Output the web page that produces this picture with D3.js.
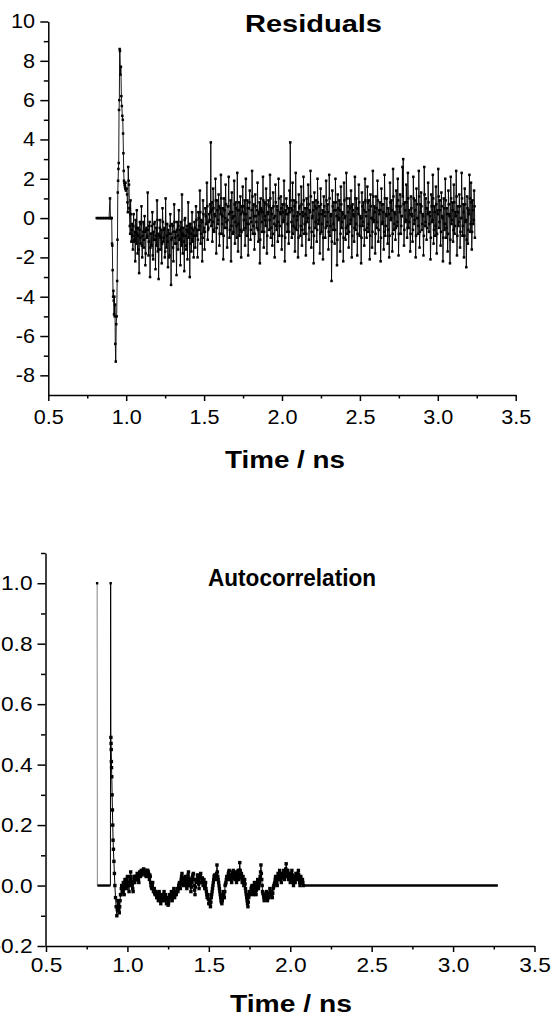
<!DOCTYPE html>
<html><head><meta charset="utf-8">
<script src="https://cdn.jsdelivr.net/npm/d3@7"></script>
<style>body{margin:0;background:#fff}svg{display:block}</style>
</head><body>
<svg id="c" width="554" height="1025"></svg>
<script>
// ---------------- DATA ----------------
// Residuals, leading part (flat zero + spike), explicit times in ns
const resHeadTimes = [
  0.811,0.82,0.83,0.84,0.85,0.86,0.87,0.88,0.89,
  0.896,0.899,0.903,0.907,0.909,0.911,0.913,0.916,0.918,0.920,0.922,
  0.924,0.926,0.928,0.930,0.933,0.936,0.939,0.942,0.944,0.946,
  0.948,0.950,0.952,0.954,0.956,0.958,0.960,0.963,0.966,0.969,
  0.972,0.975,0.978,0.980,0.982,0.984,0.986,0.988,0.990,0.992,
  0.994,0.996,0.998
];
const resHeadValues = [
  0,0,0,0,0,0,0,0,0,
  1.0,0.0,0.0,0.0,-1.3,-1.4,-2.65,-4.0,-3.7,-4.2,-4.9,
  -4.0,-5.0,-4.4,-6.4,-7.3,-5.4,-5.0,-3.2,-1.1,1.3,
  1.9,2.5,2.8,5.5,6.0,8.6,8.5,7.3,7.7,6.2,
  5.7,5.2,5.0,4.3,3.3,2.4,1.9,1.8,1.7,1.6,
  1.5,1.8,1.4
];
// Residuals after the spike: detector channels, start resStart, width resStep.
// residualsEven = channels resStart + i*resStep ; residualsOdd = the channels in between
const resStart = 1.003, resStep = 0.005;
const residualsEven = [
  1.5,0.8,2.6,1.7,-0.4,0.9,-1.2,
  -0.3,-1.6,0.2,-1.1,-2.2,-0.5,0.4,-1.8,-0.9,-2.8,-0.2,-1.3,0.6,-2.0,-0.7,-1.5,0.1,-2.4,-0.6,-1.0,
  1.3,-1.9,-0.4,-3.0,-0.8,-1.4,0.3,-2.1,-1.1,-0.2,-2.6,-0.5,0.9,-1.7,-3.1,-0.9,-0.1,-1.6,-2.3,0.5,
  -1.2,-0.6,-2.0,1.0,-1.5,-0.3,-2.5,-0.8,-1.9,0.2,-3.4,-1.0,-0.4,-2.2,0.7,-1.3,-0.7,-2.9,-0.2,-1.6,
  0.4,-1.1,-2.4,-0.5,1.2,-1.8,-0.9,-2.7,0.0,-1.4,-0.6,-2.1,0.8,-1.0,-3.0,-0.3,-1.7,0.3,-1.2,-2.0,
  -0.2,-1.5,0.6,-0.9,-2.0,0.3,-0.6,1.4,-1.3,-0.1,-2.2,0.9,-0.7,-1.6,0.5,-0.3,1.8,-1.1,-0.5,0.2,
  0.7,3.85,0.4,-1.2,1.5,-0.6,0.2,2.0,-1.8,0.9,-0.3,1.2,-1.4,0.5,2.2,-0.8,0.1,-2.1,1.0,-0.5,
  1.7,-0.2,-1.5,0.6,2.1,-1.0,0.3,-2.2,1.3,0.0,-0.7,1.9,-1.3,0.8,-0.4,2.3,-1.7,0.4,-0.9,1.1,
  -2.0,0.6,1.6,-0.6,0.2,-1.4,2.0,-0.3,0.9,-1.9,0.5,1.4,-1.1,-0.2,2.4,-0.8,0.7,-1.6,1.2,0.1,
  -0.5,1.8,-1.2,0.3,-2.3,1.0,0.4,-0.7,2.1,-1.5,0.8,-0.1,1.5,-1.8,0.2,0.9,-0.6,2.2,-1.0,0.5,
  -1.4,1.3,0.0,-2.0,1.7,-0.4,0.6,-1.2,2.0,-0.9,0.3,1.1,-1.6,0.7,-0.2,1.9,-2.2,0.4,1.0,-0.7,
  0.2,-1.3,1.4,3.85,0.5,-1.0,1.8,-0.4,0.9,-1.7,2.3,-0.6,0.1,-2.0,1.2,0.6,-0.9,1.6,-1.4,0.3,
  2.1,-0.8,0.5,-1.9,1.0,-0.2,1.7,-1.1,0.4,2.4,-1.5,0.0,0.8,-2.3,1.3,-0.5,0.9,-1.2,2.0,-0.3,
  0.6,-1.8,1.5,-0.7,0.2,-2.1,1.1,0.3,-1.0,1.9,-0.4,0.7,-1.6,2.2,-0.9,0.1,-3.2,1.4,-0.6,0.8,
  -1.3,2.0,0.4,-2.4,1.2,-0.1,0.9,-1.7,1.6,-0.5,0.3,-2.2,1.8,0.0,-1.1,2.3,-0.8,0.6,-1.5,1.0,
  -0.3,1.4,-2.0,0.7,0.2,-1.2,2.1,-0.6,1.0,-1.9,0.5,1.7,-0.9,0.1,-2.3,1.3,-0.4,0.8,-1.4,2.0,
  0.3,-1.0,1.6,-0.7,0.9,-2.1,1.2,0.0,-1.5,2.4,-0.2,0.6,-1.8,1.1,-0.5,1.9,-1.2,0.4,0.8,-2.2,
  1.5,-0.3,0.7,-1.6,2.2,-0.9,0.2,1.0,-1.3,0.5,-2.0,1.8,-0.1,0.9,-1.7,2.5,-0.6,0.3,-1.1,1.4,
  -0.4,2.0,-1.9,0.6,1.2,-0.8,0.1,2.6,3.0,-1.4,0.8,-0.2,1.7,-1.0,2.3,-0.5,0.4,-1.7,1.1,0.2,
  -1.2,2.1,-0.3,0.9,-2.0,1.5,0.0,-0.8,2.4,-1.5,0.7,1.3,-0.6,0.2,-1.9,2.6,-0.4,1.0,-1.1,0.5,
  1.8,-0.7,0.3,-2.1,1.2,-0.2,2.2,-1.3,0.6,-0.9,1.6,-1.8,0.4,2.5,-0.5,0.9,-1.4,1.3,0.1,-2.2,
  1.0,-0.6,2.0,-1.0,0.5,-1.7,1.4,0.2,-2.3,2.1,-0.3,0.8,-1.2,1.7,-0.8,0.3,2.4,-1.9,0.6,-0.4,
  1.2,-1.5,0.0,2.3,-0.9,0.7,-2.0,1.5,-0.2,-2.5,1.1,-1.3,0.4,2.2,-0.7,1.8,-1.6,0.9,-0.3,1.4,
  -1.0
];
const residualsOdd = [
  1.2,0.3,1.9,0.5,-0.8,0.2,-0.6,
  -0.9,-0.4,-1.2,-0.7,-0.1,-1.3,-0.8,-0.5,-1.6,-0.6,-1.0,-0.3,-1.4,-0.9,-0.2,-1.1,-0.7,-1.8,-0.5,-0.9,
  -0.6,-1.2,-0.2,-1.5,-0.8,-0.4,-1.9,-0.7,-0.3,-1.1,-0.9,-1.4,-0.1,-0.8,-1.6,-0.5,-1.0,-0.6,-1.3,-0.2,
  -1.0,-0.5,-1.7,-0.3,-0.9,-1.2,-0.6,-2.0,-0.4,-0.8,-1.1,-0.3,-1.5,-0.7,-0.2,-1.0,-1.3,-0.6,-0.9,-0.4,
  -1.1,-0.6,-0.2,-1.4,-0.8,-0.5,-1.2,-0.1,-0.9,-1.6,-0.4,-0.7,-1.0,-0.3,-1.3,-0.8,-0.5,-1.1,-0.6,-0.9,
  -0.5,-0.9,-0.1,-0.6,-1.1,0.0,-0.4,0.3,-0.8,-0.2,-1.0,0.2,-0.5,-0.7,0.1,-0.3,0.6,-0.6,-0.2,-0.1,
  0.3,-0.4,0.8,-0.2,0.5,-0.7,0.1,0.9,-0.5,0.4,-0.1,0.6,-0.8,0.2,1.0,-0.3,0.5,-0.9,0.4,0.0,
  0.7,-0.5,-0.1,0.6,0.2,-0.6,0.9,-0.4,0.3,-0.8,0.1,0.7,-0.2,0.5,-1.0,0.4,-0.3,0.8,-0.6,0.2,
  -0.7,0.3,0.6,-0.1,0.9,-0.5,0.2,-0.9,0.5,-0.3,0.8,0.0,-0.6,0.4,1.1,-0.4,0.1,-0.8,0.6,-0.2,
  0.4,-0.6,0.2,0.8,-1.1,0.5,-0.2,0.3,0.9,-0.7,0.1,-0.4,0.7,-0.9,0.3,0.6,-0.1,1.0,-0.5,0.2,
  -0.8,0.6,-0.3,0.1,0.8,-0.6,0.4,-0.2,1.0,-0.4,0.2,0.5,-0.9,0.3,-0.1,0.7,-1.0,0.2,0.6,-0.3,
  0.5,-0.7,0.3,0.9,-0.2,0.4,-0.8,0.1,0.6,-0.5,0.8,-0.1,0.3,-1.0,0.5,0.2,-0.4,0.7,-0.6,0.1,
  0.9,-0.3,0.2,-0.8,0.5,0.0,0.7,-0.5,0.3,1.1,-0.7,0.1,0.4,-0.9,0.6,-0.2,0.5,-0.6,0.8,-0.1,
  0.2,-0.8,0.7,-0.3,0.4,-1.0,0.6,0.1,-0.5,0.9,-0.2,0.3,-0.7,1.0,-0.4,0.2,-1.2,0.6,-0.3,0.4,
  -0.6,0.8,0.1,-1.1,0.5,0.0,0.4,-0.8,0.7,-0.2,0.2,-1.0,0.9,0.1,-0.5,1.0,-0.4,0.3,-0.7,0.5,
  -0.1,0.6,-0.9,0.4,0.1,-0.5,1.0,-0.3,0.5,-0.8,0.2,0.8,-0.4,0.0,-1.0,0.6,-0.2,0.4,-0.6,0.9,
  0.1,-0.5,0.8,-0.3,0.4,-0.9,0.6,0.0,-0.7,1.1,-0.1,0.3,-0.8,0.5,-0.2,0.9,-0.6,0.2,0.4,-1.0,
  0.7,-0.2,0.3,-0.7,1.0,-0.4,0.1,0.5,-0.6,0.2,-0.9,0.8,0.0,0.4,-0.8,1.1,-0.3,0.2,-0.5,0.6,
  -0.2,0.9,-0.8,0.3,0.6,-0.4,0.1,1.1,0.7,-0.6,0.4,-0.1,0.8,-0.5,1.0,-0.2,0.2,-0.8,0.5,0.1,
  -0.6,1.0,-0.1,0.4,-0.9,0.7,0.0,-0.4,1.1,-0.7,0.3,0.6,-0.3,0.1,-0.9,1.2,-0.2,0.5,-0.5,0.2,
  0.8,-0.3,0.1,-1.0,0.6,-0.1,1.0,-0.6,0.3,-0.4,0.7,-0.8,0.2,1.1,-0.2,0.4,-0.7,0.6,0.0,-1.0,
  0.5,-0.3,0.9,-0.5,0.2,-0.8,0.7,0.1,-1.1,1.0,-0.1,0.4,-0.6,0.8,-0.4,0.1,1.1,-0.9,0.3,-0.2,
  0.6,-0.7,0.0,1.0,-0.4,0.3,-0.9,0.7,-0.1,-1.1,0.5,-0.6,0.2,1.0,-0.3,0.8,-0.7,0.4,-0.1,0.6
];
// flat (zero) leading segment of the residuals, ns
const resFlat = [0.811, 0.907];

// Autocorrelation: leading points (explicit times) then regular channels
const acHeadTimes  = [0.814,0.8155,0.8955,0.897,0.8985,0.8995,0.9005,0.9015,0.9025,0.904,0.906,0.908,0.910,0.912,0.914,0.917,0.920,0.923,0.927,0.931,0.935,0.938,0.941];
const acHeadValues = [1.0,0,0,1.0,0.49,0.47,0.45,0.41,0.39,0.36,0.30,0.25,0.20,0.15,0.12,0.08,0.04,0.0,-0.04,-0.07,-0.10,-0.08,-0.05];
const acStart = 0.945, acStep = 0.005;
const autocorrEven = [
  -0.06,-0.09,-0.05,-0.03,
  0.0,-0.02,0.01,-0.03,0.02,0.0,-0.01,0.03,0.01,-0.02,0.02,0.045,0.0,0.01,-0.02,0.03,0.01,0.02,
  0.02,0.04,0.03,0.01,0.045,0.03,0.05,0.035,0.04,0.055,0.045,0.05,0.03,0.045,0.05,0.04,
  0.02,0.03,0.0,-0.01,0.01,-0.02,-0.01,-0.03,
  -0.02,-0.04,-0.03,-0.05,-0.02,-0.04,-0.06,-0.03,-0.05,-0.04,-0.02,-0.05,-0.03,-0.06,-0.04,-0.065,-0.05,-0.03,-0.04,-0.02,-0.05,-0.03,-0.01,-0.04,-0.02,-0.03,
  -0.01,-0.02,0.0,0.01,-0.01,0.02,0.04,0.01,0.0,0.02,
  0.03,0.01,-0.01,0.02,0.045,0.0,0.02,-0.02,0.01,0.03,0.04,0.0,-0.03,0.02,0.01,0.035,0.02,-0.01,0.03,0.04,0.01,0.025,0.0,0.02,-0.01,0.01,
  -0.02,-0.04,-0.03,-0.06,-0.05,-0.07,-0.04,-0.02,
  0.0,0.02,0.035,0.03,0.02,0.068,0.03,0.01,
  -0.01,-0.03,-0.05,-0.06,-0.04,-0.02,-0.04,0.0,
  0.01,0.03,0.02,0.04,0.05,0.02,0.03,0.01,0.04,0.05,0.03,0.02,0.045,0.01,0.03,0.05,0.02,0.076,0.03,0.04,0.01,0.03,0.0,0.02,
  -0.01,-0.03,-0.05,-0.07,-0.04,-0.02,-0.03,-0.01,
  0.0,-0.02,-0.03,0.01,-0.01,-0.03,0.0,0.02,-0.01,
  0.01,0.03,0.068,0.02,
  -0.02,-0.03,-0.05,-0.03,-0.04,-0.02,-0.05,-0.03,-0.04,-0.01,-0.03,-0.02,-0.04,-0.01,0.0,
  0.01,0.03,0.02,0.0,0.04,0.02,0.05,0.03,0.01,0.04,0.03,0.05,0.02,0.04,0.072,0.03,0.05,0.02,0.04,0.01,0.03,0.05,0.02,0.0,0.03,0.01,0.04,0.02,0.03,
  0.05,0.02,0.0,0.03,0.01,0.02,0.0
];
const autocorrOdd = [
  -0.08,-0.07,-0.03,-0.01,
  -0.01,0.0,-0.01,0.0,0.01,0.02,0.01,0.0,0.0,0.01,0.03,0.02,0.01,-0.01,0.01,0.02,0.03,0.03,
  0.03,0.02,0.02,0.03,0.04,0.04,0.045,0.05,0.045,0.05,0.04,0.035,0.04,0.05,0.045,0.03,
  0.035,0.01,-0.005,0.0,-0.01,-0.015,-0.025,-0.02,
  -0.03,-0.025,-0.04,-0.035,-0.03,-0.05,-0.045,-0.04,-0.045,-0.03,-0.035,-0.04,-0.045,-0.05,-0.055,-0.06,-0.04,-0.035,-0.03,-0.035,-0.04,-0.02,-0.025,-0.03,-0.025,-0.02,
  -0.015,-0.01,0.005,0.0,0.005,0.03,0.025,0.005,0.01,0.025,
  0.02,0.0,0.005,0.035,0.025,0.01,0.0,-0.005,0.02,0.035,0.02,-0.015,-0.005,0.015,0.02,0.03,0.005,0.01,0.035,0.025,0.015,0.01,0.01,0.005,0.0,-0.01,
  -0.03,-0.035,-0.045,-0.055,-0.06,-0.055,-0.03,-0.01,
  0.01,0.03,0.03,0.025,0.04,0.045,0.02,0.0,
  -0.02,-0.04,-0.055,-0.05,-0.03,-0.03,-0.02,0.005,
  0.02,0.025,0.03,0.045,0.035,0.025,0.02,0.025,0.045,0.04,0.025,0.035,0.03,0.02,0.04,0.035,0.05,0.05,0.035,0.025,0.02,0.015,0.01,0.005,
  -0.02,-0.04,-0.06,-0.055,-0.03,-0.025,-0.02,-0.005,
  -0.01,-0.025,-0.01,0.0,-0.02,-0.015,0.01,0.005,0.0,
  0.02,0.045,0.04,0.0,
  -0.025,-0.04,-0.04,-0.035,-0.03,-0.035,-0.04,-0.035,-0.025,-0.02,-0.025,-0.03,-0.025,-0.005,0.005,
  0.02,0.025,0.01,0.02,0.03,0.035,0.04,0.02,0.025,0.035,0.04,0.035,0.03,0.055,0.05,0.04,0.035,0.03,0.025,0.02,0.04,0.035,0.01,0.015,0.02,0.025,0.03,0.025,0.04,
  0.035,0.01,0.015,0.02,0.015,0.01
];
// flat (zero) segments of the autocorrelation, ns
const acFlats = [[0.8155, 0.8955], [2.08, 3.275]];

// ticks
const xMajor = [0.5,1.0,1.5,2.0,2.5,3.0,3.5];
const xMinor = [0.75,1.25,1.75,2.25,2.75,3.25];
const resMajor = [-8,-6,-4,-2,0,2,4,6,8,10];
const resMinor = [-7,-5,-3,-1,1,3,5,7,9];
const acMajor = [-0.2,0.0,0.2,0.4,0.6,0.8,1.0];
const acMinor = [-0.1,0.1,0.3,0.5,0.7,0.9,1.1];

// ---------------- DRAW ----------------
const svg = d3.select("#c");
const FONT = "'Liberation Sans', Arial, Helvetica, sans-serif";

function channels(start, step, even, odd){
  const pts = [];
  even.forEach((v,i)=>{
    pts.push([start+i*step, v]);
    if(i < odd.length) pts.push([start+(i+0.5)*step, odd[i]]);
  });
  return pts;
}

function stretch(sel, k){
  sel.each(function(){
    const w = this.getComputedTextLength();
    this.setAttribute("textLength", w*k);
    this.setAttribute("lengthAdjust","spacingAndGlyphs");
  });
}

function axes(x, y, o){
  const gx = svg.append("g").attr("transform",`translate(0,${o.y0})`)
    .call(d3.axisBottom(x).tickValues(xMajor).tickSize(6).tickSizeOuter(0)
      .tickPadding(o.xpad).tickFormat(d=>d.toFixed(1)));
  const gxm = svg.append("g").attr("transform",`translate(0,${o.y0})`)
    .call(d3.axisBottom(x).tickValues(xMinor).tickSize(3.5).tickSizeOuter(0).tickFormat(""));
  gxm.select(".domain").remove();
  const gy = svg.append("g").attr("transform",`translate(${o.x0},0)`)
    .call(d3.axisLeft(y).tickValues(o.yMajor).tickSize(8).tickSizeOuter(0)
      .tickPadding(o.ypad).tickFormat(o.yfmt));
  const gym = svg.append("g").attr("transform",`translate(${o.x0},0)`)
    .call(d3.axisLeft(y).tickValues(o.yMinor).tickSize(4.5).tickSizeOuter(0).tickFormat(""));
  gym.select(".domain").remove();
  [gx,gxm,gy,gym].forEach(g=>{
    g.attr("font-family",FONT).attr("font-size",o.fs);
    g.selectAll("path,line").attr("stroke","#000").attr("stroke-width",1.5);
    g.selectAll("text").attr("fill","#000");
  });
  stretch(gx.selectAll("text"),1.08);
  stretch(gy.selectAll("text"),1.08);
}

function title(txt, cx, by, len){
  const t = svg.append("text").attr("x",cx).attr("y",by).attr("text-anchor","middle")
    .attr("font-family",FONT).attr("font-weight","bold").attr("font-size",23)
    .attr("fill","#000").text(txt);
  if(len){ t.attr("textLength",len).attr("lengthAdjust","spacingAndGlyphs"); }
}

// ---- Residuals panel ----
const x1 = d3.scaleLinear().domain([0.5,3.5]).range([48.3,515.7]);
const y1 = d3.scaleLinear().domain([-9,10]).range([395,21.5]);
const resPts = resHeadTimes.map((t,i)=>[t,resHeadValues[i]])
  .concat(channels(resStart, resStep, residualsEven, residualsOdd));
const line1 = d3.line().x(d=>x1(d[0])).y(d=>y1(d[1]));

svg.append("path").datum(resPts).attr("d",line1)
  .attr("fill","none").attr("stroke","#000").attr("stroke-width",0.9);
svg.append("path").datum(resFlat.map(t=>[t,0])).attr("d",line1)
  .attr("fill","none").attr("stroke","#000").attr("stroke-width",2.2);
svg.append("g").selectAll("rect").data(resPts).join("rect")
  .attr("x",d=>x1(d[0])-1.25).attr("y",d=>y1(d[1])-1.25)
  .attr("width",2.5).attr("height",2.5).attr("fill","#000");

axes(x1,y1,{y0:395,x0:48.3,xpad:8.8,ypad:5.3,fs:20,yMajor:resMajor,yMinor:resMinor,yfmt:d=>String(d)});
title("Residuals",313.5,31.7,137);
title("Time / ns",285,468,120);

// ---- Autocorrelation panel ----
const x2 = d3.scaleLinear().domain([0.5,3.5]).range([46,534.5]);
const y2 = d3.scaleLinear().domain([-0.2,1.1]).range([946,553]);
const acPts = acHeadTimes.map((t,i)=>[t,acHeadValues[i]])
  .concat(channels(acStart, acStep, autocorrEven, autocorrOdd));
const line2 = d3.line().x(d=>x2(d[0])).y(d=>y2(d[1]));

svg.append("path").datum(acPts.slice(0,3)).attr("d",line2)
  .attr("fill","none").attr("stroke","#666").attr("stroke-width",0.8);
svg.append("path").datum(acPts.slice(2)).attr("d",line2)
  .attr("fill","none").attr("stroke","#000").attr("stroke-width",1.0);
acFlats.forEach(seg=>{
  svg.append("path").datum(seg.map(t=>[t,0])).attr("d",line2)
    .attr("fill","none").attr("stroke","#000").attr("stroke-width",2.4);
});
svg.append("g").selectAll("rect").data(acPts.slice(4)).join("rect")
  .attr("x",d=>x2(d[0])-1.7).attr("y",d=>y2(d[1])-1.7)
  .attr("width",3.4).attr("height",3.4).attr("fill","#000");
svg.append("g").selectAll("rect").data([acPts[0],acPts[3]]).join("rect")
  .attr("x",d=>x2(d[0])-1.2).attr("y",d=>y2(d[1])-1.2)
  .attr("width",2.4).attr("height",2.4).attr("fill","#000");

axes(x2,y2,{y0:946,x0:45.5,xpad:5.5,ypad:5,fs:21,yMajor:acMajor,yMinor:acMinor,yfmt:d=>d.toFixed(1)});
title("Autocorrelation",292,586,168);
title("Time / ns",291,1012,122);
</script>
</body></html>
